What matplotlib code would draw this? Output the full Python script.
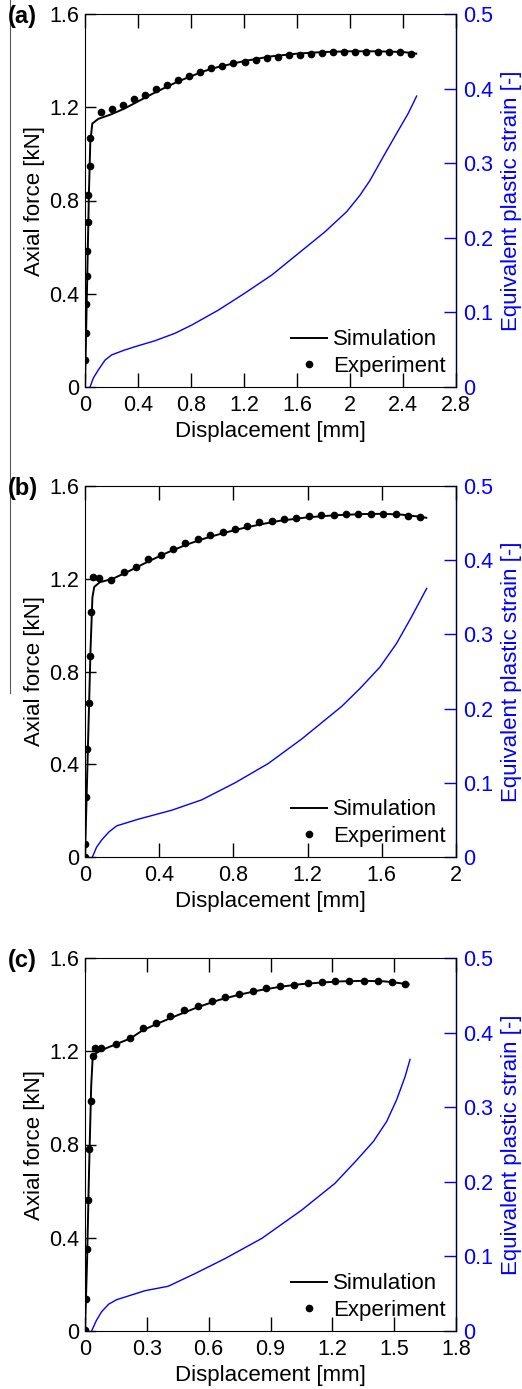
import matplotlib
matplotlib.use("Agg")
import matplotlib.pyplot as plt
from matplotlib.lines import Line2D

plt.rcParams["font.family"] = ["Liberation Sans", "DejaVu Sans"]

BLUE = "#0000ff"

# ---- panel (a) ----
exp_a_x = [0, 0.008, 0.010, 0.013, 0.018, 0.020, 0.025, 0.038, 0.040,
           0.118, 0.202, 0.287, 0.370, 0.451, 0.534, 0.620, 0.703, 0.786, 0.869,
           0.952, 1.035, 1.118, 1.204, 1.287, 1.370, 1.453, 1.537, 1.622, 1.703,
           1.786, 1.869, 1.952, 2.038, 2.121, 2.209, 2.292, 2.375, 2.463]
exp_a_y = [0.114, 0.233, 0.355, 0.478, 0.584, 0.707, 0.824, 0.949, 1.066,
           1.181, 1.192, 1.209, 1.234, 1.254, 1.279, 1.297, 1.317, 1.334, 1.350,
           1.370, 1.378, 1.388, 1.395, 1.403, 1.413, 1.417, 1.423, 1.423, 1.430,
           1.434, 1.435, 1.438, 1.438, 1.438, 1.438, 1.437, 1.435, 1.427]
sim_a_x = [0, 0.01, 0.02, 0.03, 0.04, 0.055, 0.1, 0.2, 0.3, 0.4, 0.5, 0.6, 0.7,
           0.8, 0.9, 1.0, 1.2, 1.4, 1.6, 1.8, 2.0, 2.2, 2.4, 2.5]
sim_a_y = [0, 0.28, 0.56, 0.84, 1.05, 1.13, 1.15, 1.17, 1.195, 1.225, 1.255, 1.283,
           1.31, 1.333, 1.355, 1.372, 1.398, 1.418, 1.43, 1.437, 1.44, 1.44, 1.437, 1.43]
peeq_a_x = [0.038, 0.063, 0.101, 0.151, 0.201, 0.290, 0.377, 0.528, 0.679, 0.805,
            1.006, 1.208, 1.409, 1.610, 1.811, 1.975, 2.075, 2.151, 2.252, 2.352,
            2.440, 2.503]
peeq_a_y = [0.0, 0.012, 0.023, 0.036, 0.043, 0.049, 0.054, 0.062, 0.072, 0.083,
            0.103, 0.126, 0.150, 0.179, 0.208, 0.235, 0.257, 0.277, 0.309, 0.340,
            0.367, 0.390]
xticks_a = [0, 0.4, 0.8, 1.2, 1.6, 2.0, 2.4, 2.8]
xlabels_a = ["0", "0.4", "0.8", "1.2", "1.6", "2", "2.4", "2.8"]

# ---- panel (b) ----
exp_b_x = [0, 0, 0.007, 0.0125, 0.0215, 0.027, 0.034, 0.043, 0.073, 0.142,
           0.21, 0.276, 0.342, 0.409, 0.473, 0.541, 0.609, 0.676, 0.742, 0.806,
           0.873, 0.939, 1.007, 1.073, 1.14, 1.208, 1.272, 1.341, 1.405, 1.473,
           1.541, 1.608, 1.674, 1.742, 1.808]
exp_b_y = [0, 0.057, 0.259, 0.465, 0.664, 0.865, 1.057, 1.209, 1.202, 1.195,
           1.231, 1.252, 1.285, 1.303, 1.327, 1.356, 1.370, 1.389, 1.403, 1.415,
           1.429, 1.443, 1.451, 1.456, 1.461, 1.471, 1.474, 1.476, 1.479, 1.481,
           1.481, 1.481, 1.479, 1.472, 1.465]
sim_b_x = [0, 0.01, 0.02, 0.03, 0.04, 0.05, 0.08, 0.15, 0.25, 0.35, 0.45, 0.55,
           0.65, 0.75, 0.85, 0.95, 1.05, 1.2, 1.35, 1.5, 1.6, 1.7, 1.8, 1.84]
sim_b_y = [0, 0.3, 0.6, 0.9, 1.12, 1.165, 1.185, 1.2, 1.238, 1.278, 1.315, 1.348,
           1.375, 1.398, 1.418, 1.435, 1.45, 1.465, 1.474, 1.479, 1.48, 1.477, 1.468, 1.463]
peeq_b_x = [0.040, 0.062, 0.090, 0.130, 0.171, 0.288, 0.467, 0.629, 0.809, 0.988,
            1.168, 1.384, 1.482, 1.590, 1.680, 1.761, 1.842]
peeq_b_y = [0.0, 0.013, 0.023, 0.034, 0.042, 0.051, 0.063, 0.077, 0.100, 0.126,
            0.159, 0.203, 0.227, 0.256, 0.288, 0.324, 0.362]
xticks_b = [0, 0.4, 0.8, 1.2, 1.6, 2.0]
xlabels_b = ["0", "0.4", "0.8", "1.2", "1.6", "2"]

# ---- panel (c) ----
exp_c_x = [0, 0.003, 0.0097, 0.0145, 0.019, 0.027, 0.037, 0.047, 0.079, 0.149,
           0.217, 0.281, 0.346, 0.414, 0.48, 0.548, 0.614, 0.68, 0.746, 0.814,
           0.879, 0.947, 1.015, 1.081, 1.149, 1.215, 1.283, 1.352, 1.42, 1.488, 1.551]
exp_c_y = [0.003, 0.136, 0.35, 0.562, 0.779, 0.988, 1.178, 1.213, 1.213, 1.231,
           1.256, 1.299, 1.321, 1.352, 1.375, 1.395, 1.417, 1.431, 1.447, 1.457,
           1.471, 1.481, 1.486, 1.493, 1.497, 1.5, 1.5, 1.503, 1.503, 1.497, 1.488]
sim_c_x = [0, 0.01, 0.02, 0.03, 0.037, 0.05, 0.08, 0.15, 0.22, 0.28, 0.35, 0.45,
           0.55, 0.65, 0.75, 0.85, 0.95, 1.05, 1.15, 1.25, 1.35, 1.45, 1.52, 1.57]
sim_c_y = [0, 0.3, 0.7, 1.05, 1.17, 1.19, 1.205, 1.23, 1.255, 1.29, 1.318, 1.355,
           1.39, 1.42, 1.443, 1.462, 1.477, 1.488, 1.495, 1.5, 1.502, 1.5, 1.493, 1.487]
peeq_c_x = [0.032, 0.055, 0.081, 0.115, 0.154, 0.291, 0.404, 0.534, 0.679, 0.857,
            1.051, 1.213, 1.318, 1.399, 1.464, 1.512, 1.553, 1.577]
peeq_c_y = [0.0, 0.014, 0.026, 0.036, 0.042, 0.054, 0.060, 0.077, 0.097, 0.124,
            0.162, 0.198, 0.229, 0.254, 0.281, 0.310, 0.341, 0.364]
xticks_c = [0, 0.3, 0.6, 0.9, 1.2, 1.5, 1.8]
xlabels_c = ["0", "0.3", "0.6", "0.9", "1.2", "1.5", "1.8"]

yticks_force = [0, 0.4, 0.8, 1.2, 1.6]
yticks_strain = [0, 0.1, 0.2, 0.3, 0.4, 0.5]

panels = [
    ("(a)", exp_a_x, exp_a_y, sim_a_x, sim_a_y, peeq_a_x, peeq_a_y, xticks_a, xlabels_a),
    ("(b)", exp_b_x, exp_b_y, sim_b_x, sim_b_y, peeq_b_x, peeq_b_y, xticks_b, xlabels_b),
    ("(c)", exp_c_x, exp_c_y, sim_c_x, sim_c_y, peeq_c_x, peeq_c_y, xticks_c, xlabels_c),
]

W, H = 522, 1389
fig = plt.figure(figsize=(W / 100, H / 100), dpi=100)

# axes boxes in pixels: left, top, right, bottom
boxes = [(85, 14, 456, 387), (85, 486, 456, 857), (85, 958, 456, 1331)]

FS = 15.5
for (tag, ex, ey, sx, sy, px, py, xt, xl), (l, t, r, b) in zip(panels, boxes):
    ax = fig.add_axes([l / W, 1 - b / H, (r - l) / W, (b - t) / H])
    ax2 = ax.twinx()

    ax2.plot(px, py, color=BLUE, lw=1.0)
    ax.plot(sx, sy, color="black", lw=1.4, label="Simulation")
    ax.plot(ex, ey, "o", color="black", ms=4.5, label="Experiment")

    ax.set_xlim(xt[0], xt[-1])
    ax.set_ylim(0, 1.6)
    ax2.set_ylim(0, 0.5)
    ax.set_xticks(xt, xl)
    ax.set_yticks(yticks_force, ["0", "0.4", "0.8", "1.2", "1.6"])
    ax2.set_yticks(yticks_strain, ["0", "0.1", "0.2", "0.3", "0.4", "0.5"])

    ax.tick_params(axis="x", direction="in", top=True, length=10, width=1,
                   labelsize=FS, pad=6)
    ax.tick_params(axis="y", direction="in", length=8, width=1, labelsize=FS, pad=4)
    ax2.tick_params(axis="y", direction="in", length=9, width=1, labelsize=FS,
                    colors=BLUE, pad=5)
    for s in ("left", "top", "bottom"):
        ax2.spines[s].set_visible(False)
    ax2.spines["right"].set_color(BLUE)
    ax2.spines["right"].set_linewidth(1.0)

    ax.set_xlabel("Displacement [mm]", fontsize=16, labelpad=3)
    ax.set_ylabel("Axial force [kN]", fontsize=16, labelpad=3)
    ax2.set_ylabel("Equivalent plastic strain [-]", fontsize=16, color=BLUE, labelpad=6)

    ax.legend(loc="lower right", frameon=False, fontsize=16,
              handlelength=1.6, handletextpad=0.3, labelspacing=0.25,
              borderaxespad=0.2, borderpad=0.25)
    ax2.set_zorder(0)
    ax.set_zorder(1)
    ax.patch.set_visible(False)

    fig.text(8 / W, 1 - (t + 2) / H, tag, fontsize=17, fontweight="bold",
             ha="left", va="center")

# thin rule along the left margin
fig.add_artist(Line2D([10 / W, 10 / W], [1, 1 - 693 / H], color="0.35", lw=0.8))

fig.savefig("out.png", dpi=100)
